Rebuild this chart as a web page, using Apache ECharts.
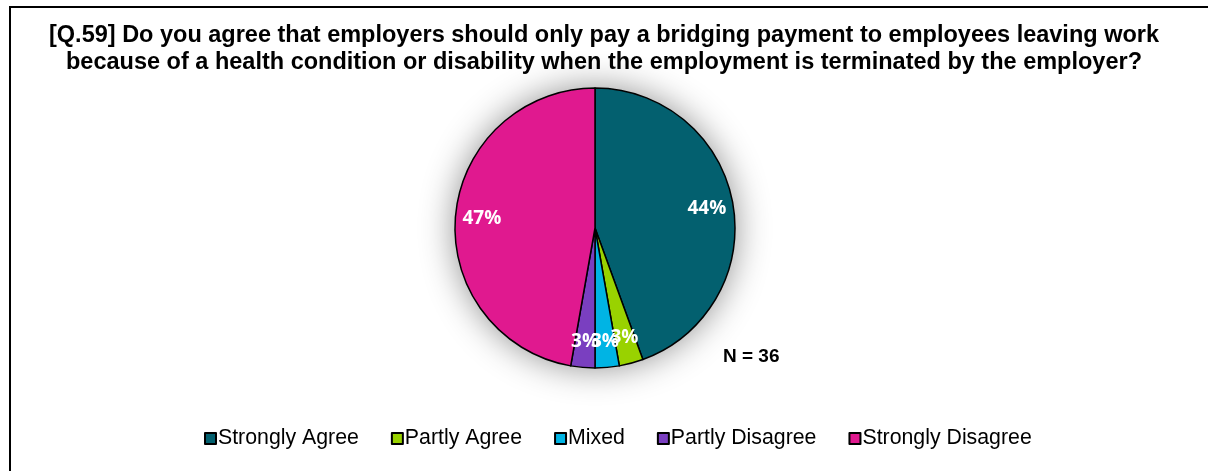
<!DOCTYPE html>
<html>
<head>
<meta charset="utf-8">
<script src="https://cdn.jsdelivr.net/npm/echarts@6/dist/echarts.min.js"></script>
<style>
  html, body { margin: 0; padding: 0; background: #fff; }
  #chart { width: 1208px; height: 471px; }
</style>
</head>
<body>
<div id="chart"></div>
<script>
// Survey responses (count of respondents, N = 36)
const categories = ['Strongly Agree', 'Partly Agree', 'Mixed', 'Partly Disagree', 'Strongly Disagree'];
const counts = [16, 1, 1, 1, 17];
const colors = ['#03606F', '#99D200', '#00B4E4', '#7A3FC0', '#E0198F'];
const titleLines = [
  '[Q.59] Do you agree that employers should only pay a bridging payment to employees leaving work',
  'because of a health condition or disability when the employment is terminated by the employer?'
];
const sampleNote = 'N = 36';

const total = counts.reduce((a, b) => a + b, 0);
const pieData = categories.map((name, i) => ({
  name: name,
  value: counts[i],
  itemStyle: { color: colors[i] }
}));

const center = [595, 228];
const R = 140;

const chart = echarts.init(document.getElementById('chart'), null, { renderer: 'canvas' });
chart.setOption({
  animation: false,
  backgroundColor: '#ffffff',
  title: {
    text: titleLines.join('\n'),
    left: 'center',
    top: 17,
    textStyle: {
      fontFamily: 'Liberation Sans, Arial, sans-serif',
      fontWeight: 'bold',
      fontSize: 23.5,
      lineHeight: 27,
      color: '#000'
    }
  },
  legend: {
    data: categories,
    bottom: 17,
    left: 199,
    icon: 'rect',
    itemWidth: 11,
    itemHeight: 11,
    itemGap: 32,
    selectedMode: false,
    textStyle: {
      fontFamily: 'Liberation Sans, Arial, sans-serif',
      fontSize: 21.3,
      color: '#000',
      padding: [0, 0, 0, -3]
    }
  },
  graphic: [
    {
      type: 'rect',
      shape: { x: 10, y: 7, width: 1400, height: 800 },
      style: { fill: 'none', stroke: '#000', lineWidth: 2 },
      z: -10
    },
    {
      type: 'text',
      left: 723,
      top: 347,
      style: {
        text: sampleNote,
        font: 'bold 19px Liberation Sans, Arial, sans-serif',
        fill: '#000'
      }
    }
  ],
  series: [
    {
      name: 'responses',
      type: 'pie',
      center: center,
      radius: [0, R],
      startAngle: 90,
      clockwise: true,
      silent: true,
      z: 3,
      data: pieData,
      itemStyle: { borderColor: '#000', borderWidth: 1.5 },
      label: { show: false },
      labelLine: { show: false }
    },
    {
      // soft glow behind the pie
      name: 'shade',
      type: 'pie',
      center: center,
      radius: [0, R],
      silent: true,
      z: 1,
      data: [{ name: '_shade', value: 1, itemStyle: { color: '#ffffff' } }],
      itemStyle: { shadowBlur: 35, shadowColor: 'rgba(0,0,0,0.45)' },
      label: { show: false },
      labelLine: { show: false }
    },
    {
      // percentage labels, placed on a transparent ring
      name: 'labels',
      type: 'pie',
      center: center,
      radius: [R * 0.58, R],
      startAngle: 90,
      clockwise: true,
      silent: true,
      z: 5,
      data: categories.map((name, i) => ({ name: name, value: counts[i] })),
      itemStyle: { color: 'rgba(0,0,0,0)', borderWidth: 0 },
      labelLayout: { hideOverlap: false },
      label: {
        show: true,
        position: 'inside',
        formatter: p => Math.round(p.value / total * 100) + '%',
        color: '#fff',
        fontFamily: 'Open Sans, sans-serif',
        fontWeight: 'bold',
        fontSize: 19
      },
      labelLine: { show: false }
    }
  ]
});
</script>
</body>
</html>
